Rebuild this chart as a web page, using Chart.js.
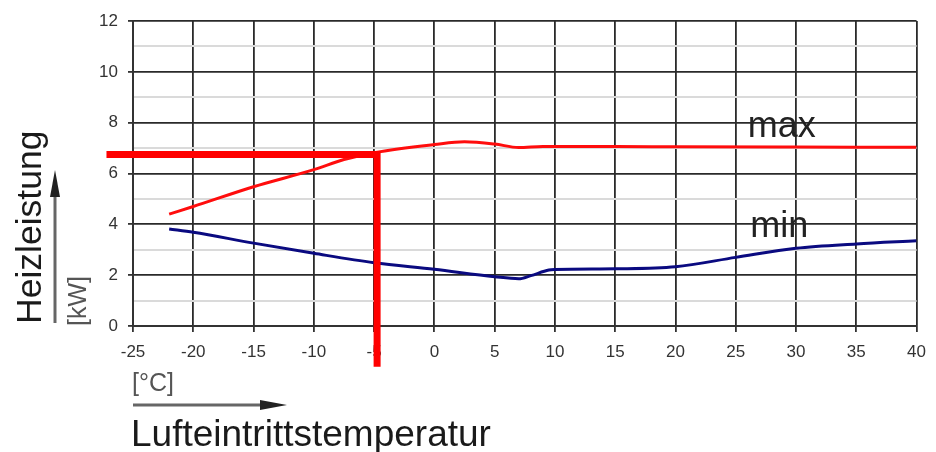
<!DOCTYPE html>
<html>
<head>
<meta charset="utf-8">
<script src="https://cdn.jsdelivr.net/npm/chart.js@4"></script>
<style>
  html, body { margin: 0; padding: 0; background: #fff; }
  #wrap { width: 936px; height: 452px; }
</style>
</head>
<body>
<div id="wrap"><canvas id="myChart" width="936" height="452"></canvas></div>
<script>
// values
const maxTemp = [-22, -20, -15, -10, -7.5, -5, 0, 2.5, 5, 7, 9, 15, 20, 30, 40];
const maxKW = [4.4, 4.7, 5.48, 6.15, 6.55, 6.82, 7.14, 7.25, 7.16, 7.02, 7.06, 7.06, 7.05, 7.04, 7.03];
const minTemp = [-22, -20, -15, -10, -5, 0, 5, 7, 8, 9.5, 10, 15, 20, 25, 30, 35, 40];
const minKW = [3.82, 3.69, 3.26, 2.86, 2.49, 2.23, 1.94, 1.86, 1.98, 2.2, 2.22, 2.25, 2.33, 2.7, 3.06, 3.23, 3.35];
// red reading marker (operating point)
const markTemp = [-27.2, -4.75, -4.75];
const markKW = [6.75, 6.75, -1.6];

const xTicks = [-25, -20, -15, -10, -5, 0, 5, 10, 15, 20, 25, 30, 35, 40];
const yTicks = [0, 2, 4, 6, 8, 10, 12];

const toPts = (xs, ys) => xs.map((x, i) => ({ x: x, y: ys[i] }));
const FONT = "'Liberation Sans', Arial, sans-serif";

const arrow = (ctx, x1, y1, x2, y2) => {
  const a = Math.atan2(y2 - y1, x2 - x1);
  const hl = 27, hw = 5;
  ctx.strokeStyle = "#666";
  ctx.lineWidth = 3;
  ctx.beginPath();
  ctx.moveTo(x1, y1);
  ctx.lineTo(x2 - hl * Math.cos(a), y2 - hl * Math.sin(a));
  ctx.stroke();
  ctx.fillStyle = "#222";
  ctx.beginPath();
  ctx.moveTo(x2, y2);
  ctx.lineTo(x2 - hl * Math.cos(a) - hw * Math.sin(a), y2 - hl * Math.sin(a) + hw * Math.cos(a));
  ctx.lineTo(x2 - hl * Math.cos(a) + hw * Math.sin(a), y2 - hl * Math.sin(a) - hw * Math.cos(a));
  ctx.closePath();
  ctx.fill();
};

const labelsPlugin = {
  id: "labels",
  afterDraw(chart) {
    const ctx = chart.ctx;
    const xs = chart.scales.x, ys = chart.scales.y;
    ctx.save();
    // curve names
    ctx.fillStyle = "#222";
    ctx.font = "36px " + FONT;
    ctx.textAlign = "left";
    ctx.textBaseline = "alphabetic";
    ctx.fillText("max", xs.getPixelForValue(26), ys.getPixelForValue(7.45));
    ctx.fillText("min", xs.getPixelForValue(26.2), ys.getPixelForValue(3.5));

    // y axis title
    ctx.save();
    ctx.translate(41, 324);
    ctx.rotate(-Math.PI / 2);
    ctx.fillStyle = "#1a1a1a";
    ctx.font = "35.5px " + FONT;
    ctx.fillText("Heizleistung", 0, 0);
    ctx.restore();
    ctx.save();
    ctx.translate(86, 326);
    ctx.rotate(-Math.PI / 2);
    ctx.fillStyle = "#555";
    ctx.font = "25px " + FONT;
    ctx.fillText("[kW]", 0, 0);
    ctx.restore();
    arrow(ctx, 55, 323, 55, 170);

    // x axis title
    ctx.fillStyle = "#555";
    ctx.font = "25px " + FONT;
    ctx.fillText("[°C]", 132, 391);
    arrow(ctx, 133, 405, 287, 405);
    ctx.fillStyle = "#1a1a1a";
    ctx.font = "37px " + FONT;
    ctx.fillText("Lufteintrittstemperatur", 131, 446);
    ctx.restore();
  },
};

const chart = new Chart("myChart", {
  type: "scatter",
  data: {
    datasets: [
      {
        data: toPts(markTemp, markKW),
        showLine: true,
        borderColor: "#ff0000",
        borderWidth: 7,
        borderCapStyle: "butt",
        borderJoinStyle: "miter",
        pointRadius: 0,
        clip: false,
      },
      {
        data: toPts(maxTemp, maxKW),
        showLine: true,
        borderColor: "#ff0d0d",
        borderWidth: 3,
        pointRadius: 0,
        cubicInterpolationMode: "monotone",
      },
      {
        data: toPts(minTemp, minKW),
        showLine: true,
        borderColor: "#0a0a80",
        borderWidth: 3,
        pointRadius: 0,
        cubicInterpolationMode: "monotone",
      },
    ],
  },
  options: {
    responsive: false,
    animation: false,
    events: [],
    layout: { padding: { left: 0, right: 16, top: 21, bottom: 0 } },
    plugins: { legend: { display: false }, tooltip: { enabled: false } },
    scales: {
      x: {
        type: "linear",
        min: -25,
        max: 40,
        afterFit: (s) => { s.height = 126; },
        afterBuildTicks: (s) => { s.ticks = xTicks.map((v) => ({ value: v })); },
        ticks: {
          color: "#333",
          font: { family: FONT, size: 17 },
          padding: 10,
          maxRotation: 0,
        },
        grid: { color: "#2a2a2a", lineWidth: 1.8, tickLength: 6, tickColor: "#333" },
        border: { color: "#333", width: 2 },
      },
      y: {
        min: 0,
        max: 12,
        afterFit: (s) => { s.width = 133; },
        afterBuildTicks: (s) => {
          const t = [];
          for (let v = 0; v <= 12; v++) t.push({ value: v });
          s.ticks = t;
        },
        ticks: {
          color: "#333",
          font: { family: FONT, size: 17 },
          padding: 10,
          callback: (v) => (yTicks.includes(v) ? String(v) : ""),
        },
        grid: {
          color: (c) => (c.tick && c.tick.value % 2 === 0 ? "#2a2a2a" : "#dadada"),
          lineWidth: (c) => (c.tick && c.tick.value % 2 === 0 ? 1.8 : 2),
          tickLength: 5,
          tickColor: (c) => (c.tick && c.tick.value % 2 === 0 ? "#333" : "rgba(0,0,0,0)"),
        },
        border: { color: "#333", width: 2 },
      },
    },
  },
  plugins: [labelsPlugin],
});
</script>
</body>
</html>
